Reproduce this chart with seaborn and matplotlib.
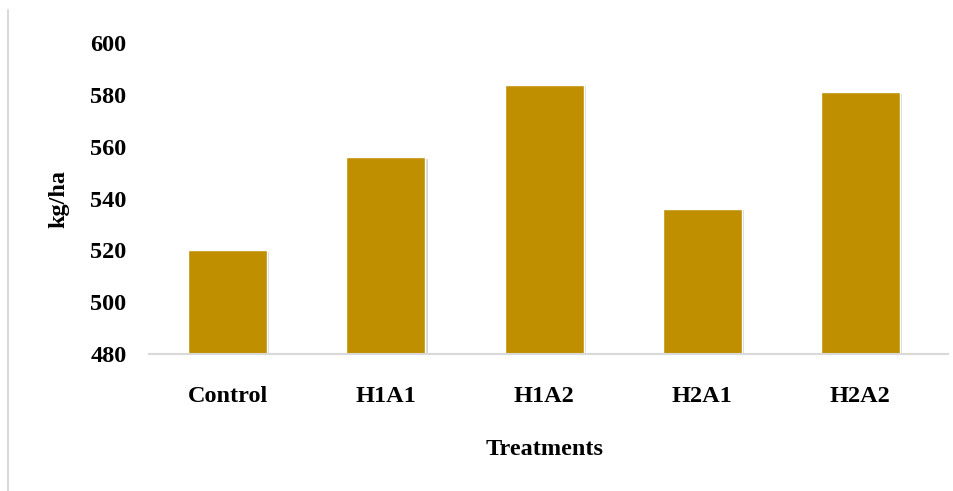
import matplotlib
matplotlib.use("Agg")
import matplotlib.pyplot as plt
import seaborn as sns
import pandas as pd
from matplotlib.lines import Line2D
import matplotlib.patheffects as pe

categories = ["Control", "H1A1", "H1A2", "H2A1", "H2A2"]
values = [520, 556, 584, 536, 581]
yticks = [480, 500, 520, 540, 560, 580, 600]

sns.set_theme(style="white")
plt.rcParams['font.family'] = ['Liberation Serif', 'DejaVu Serif']
plt.rcParams['text.color'] = 'black'
plt.rcParams['axes.labelcolor'] = 'black'
plt.rcParams['xtick.color'] = 'black'
plt.rcParams['ytick.color'] = 'black'

df = pd.DataFrame({"Treatments": categories, "kg/ha": values})

fig = plt.figure(figsize=(9.54, 4.91), dpi=100)
ax = fig.add_axes([0.156, 0.279, 0.838, 0.633])
sns.barplot(data=df, x="Treatments", y="kg/ha", color="#BF8F00", width=0.5,
            saturation=1, ax=ax)
for p in ax.patches:
    p.set_path_effects([pe.SimplePatchShadow(offset=(1.5, -1), shadow_rgbFace="#999999", alpha=0.4), pe.Normal()])

ax.set_ylim(480, 600)
ax.set_yticks(yticks)
ax.set_xlim(-0.5, 4.557)
for s in ["top", "right", "left"]:
    ax.spines[s].set_visible(False)
ax.spines["bottom"].set_color("#d9d9d9")
ax.spines["bottom"].set_linewidth(1.5)
ax.tick_params(axis="both", length=0, labelsize=17.5)
ax.tick_params(axis="y", pad=16)
ax.tick_params(axis="x", pad=23)
for lbl in ax.get_xticklabels() + ax.get_yticklabels():
    lbl.set_fontweight("bold")
ax.set_xlabel("Treatments", fontsize=17.5, fontweight="bold")
ax.xaxis.set_label_coords(0.495, -0.274)
ax.set_ylabel("kg/ha", fontsize=17.5, fontweight="bold", labelpad=15)

fig.add_artist(Line2D([8/954, 8/954], [0, 1 - 10/491], transform=fig.transFigure,
                      color="#d9d9d9", linewidth=1.5))

fig.savefig("out.png", dpi=100)
